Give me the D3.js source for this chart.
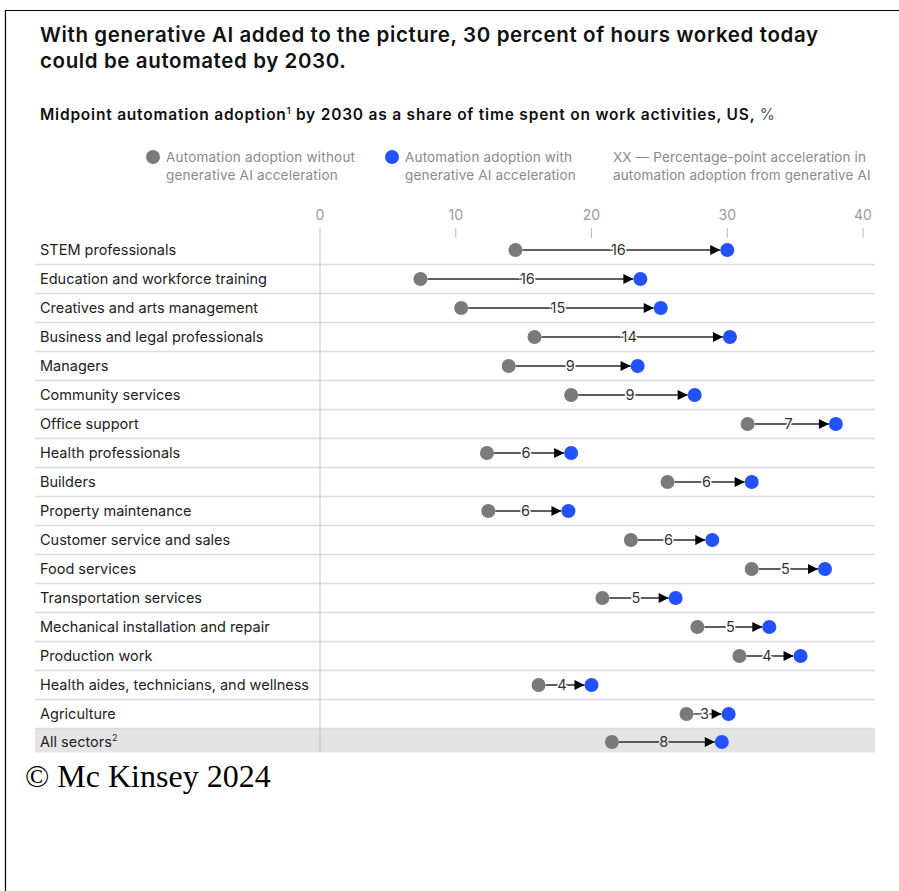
<!DOCTYPE html>
<html>
<head>
<meta charset="utf-8">
<script src="https://cdn.jsdelivr.net/npm/d3@7"></script>
<style>
  body { margin: 0; background: #fff; }
  svg { display: block; }
</style>
</head>
<body>
<svg id="chart" width="899" height="891"></svg>
<script>
// Occupation groups, top to bottom
const categories = [
  "STEM professionals",
  "Education and workforce training",
  "Creatives and arts management",
  "Business and legal professionals",
  "Managers",
  "Community services",
  "Office support",
  "Health professionals",
  "Builders",
  "Property maintenance",
  "Customer service and sales",
  "Food services",
  "Transportation services",
  "Mechanical installation and repair",
  "Production work",
  "Health aides, technicians, and wellness",
  "Agriculture",
  "All sectors"
];

// Midpoint automation adoption by 2030, % of time spent
const withoutGenAI = [14.4, 7.4, 10.4, 15.8, 13.9, 18.5, 31.5, 12.3, 25.6, 12.4, 22.9, 31.8, 20.8, 27.8, 30.9, 16.1, 27.0, 21.5];
const withGenAI    = [30.0, 23.6, 25.1, 30.2, 23.4, 27.6, 38.0, 18.5, 31.8, 18.3, 28.9, 37.2, 26.2, 33.1, 35.4, 20.0, 30.1, 29.6];

// Percentage-point acceleration from generative AI
const acceleration = [16, 16, 15, 14, 9, 9, 7, 6, 6, 6, 6, 5, 5, 5, 4, 4, 3, 8];

const xTicks = [0, 10, 20, 30, 40];

const data = categories.map((c, i) => ({
  name: c,
  from: withoutGenAI[i],
  to: withGenAI[i],
  gain: acceleration[i],
  total: c === "All sectors"
}));

const FONT = "Inter, 'Liberation Sans', Arial, sans-serif";
const GREY = "#7a7a7a";
const BLUE = "#2251ff";
const INK = "#222";
const R = 7;

const svg = d3.select("#chart").style("font-family", FONT);

// stretch a text element to a given width via letter spacing
function fitWidth(sel, width) {
  sel.each(function () {
    const n = this.getNumberOfChars();
    const w = this.getComputedTextLength();
    if (n > 1) d3.select(this).attr("letter-spacing", (width - w) / (n - 1));
  });
}

// page frame
svg.append("line").attr("x1", 5).attr("x2", 899).attr("y1", 10.5).attr("y2", 10.5)
  .attr("stroke", "#000").attr("stroke-width", 1.2);
svg.append("line").attr("x1", 5.5).attr("x2", 5.5).attr("y1", 10).attr("y2", 891)
  .attr("stroke", "#000").attr("stroke-width", 1.2);

// title
const t1 = svg.append("text").attr("x", 40).attr("y", 42)
  .attr("font-size", 20.5).attr("font-weight", 600).attr("fill", "#111")
  .text("With generative AI added to the picture, 30 percent of hours worked today");
const t2 = svg.append("text").attr("x", 40).attr("y", 68)
  .attr("font-size", 20.5).attr("font-weight", 600).attr("fill", "#111")
  .text("could be automated by 2030.");
fitWidth(t1, 778);
t2.attr("letter-spacing", t1.attr("letter-spacing"));

// subtitle
const sub = svg.append("text").attr("x", 40).attr("y", 120)
  .attr("font-size", 15.5).attr("font-weight", 600).attr("fill", "#111");
sub.append("tspan").text("Midpoint automation adoption");
sub.append("tspan").attr("font-size", 9).attr("dy", -6).text("1");
sub.append("tspan").attr("dy", 6).text(" by 2030 as a share of time spent on work activities, US, ");
sub.append("tspan").attr("font-weight", "normal").attr("fill", "#555").text("%");
fitWidth(sub, 735);

// legend
const legend = svg.append("g").attr("font-size", 13.5).attr("fill", "#8a8a8a");
const legendItems = [
  { x: 153, color: GREY, w: 189, lines: ["Automation adoption without", "generative AI acceleration"] },
  { x: 392, color: BLUE, w: 167, lines: ["Automation adoption with", "generative AI acceleration"] },
  { x: null, color: null, tx: 613, w: 253, lines: ["XX \u2014 Percentage-point acceleration in", "automation adoption from generative AI"] }
];
legendItems.forEach(it => {
  if (it.color) {
    legend.append("circle").attr("cx", it.x).attr("cy", 157).attr("r", R).attr("fill", it.color);
  }
  const tx = it.tx != null ? it.tx : it.x + 13;
  const lines = it.lines.map((l, j) =>
    legend.append("text").attr("x", tx).attr("y", 162 + j * 18).text(l));
  fitWidth(lines[0], it.w);
  lines[1].attr("letter-spacing", lines[0].attr("letter-spacing"));
});

// scales
const x = d3.scaleLinear().domain([0, 40]).range([320, 863]);
const y = d3.scaleBand().domain(categories).range([235.5, 757.5]);

const plotLeft = 35, plotRight = 875;

// highlighted total row
const totalRow = data.find(d => d.total);
svg.append("rect")
  .attr("x", plotLeft).attr("width", plotRight - plotLeft)
  .attr("y", y(totalRow.name)).attr("height", y.bandwidth() - 5)
  .attr("fill", "#e4e4e4");

// row separators
svg.append("g").selectAll("line")
  .data(categories.slice(1))
  .join("line")
  .attr("x1", plotLeft).attr("x2", plotRight)
  .attr("y1", d => y(d)).attr("y2", d => y(d))
  .attr("stroke", "#dcdcdc").attr("stroke-width", 1.5);

// x axis ticks and labels
const axis = svg.append("g");
axis.selectAll("text").data(xTicks).join("text")
  .attr("x", d => x(d)).attr("y", 220)
  .attr("text-anchor", "middle")
  .attr("font-size", 14).attr("fill", "#9a9a9a")
  .text(d => d);
axis.selectAll("line.tick").data(xTicks.slice(1)).join("line")
  .attr("class", "tick")
  .attr("x1", d => x(d)).attr("x2", d => x(d))
  .attr("y1", 228).attr("y2", 238)
  .attr("stroke", "#bbb");
axis.append("line")
  .attr("x1", x(0)).attr("x2", x(0))
  .attr("y1", 228).attr("y2", 752)
  .attr("stroke", "#c4c4c4");

// arrow marker
svg.append("defs").append("marker")
  .attr("id", "arrow")
  .attr("viewBox", "0 0 10 10")
  .attr("refX", 10).attr("refY", 5)
  .attr("markerUnits", "userSpaceOnUse")
  .attr("markerWidth", 11).attr("markerHeight", 10)
  .attr("orient", "auto")
  .append("path").attr("d", "M0,0 L10,5 L0,10 Z").attr("fill", "#000");

const rows = svg.append("g").selectAll("g").data(data).join("g")
  .attr("transform", d => `translate(0,${y(d.name) + y.bandwidth() / 2 + (d.total ? -1 : 0)})`);

// row labels
const labels = rows.append("text")
  .attr("x", 40).attr("y", 5)
  .attr("font-size", 14.5).attr("fill", INK);
labels.append("tspan").text(d => d.name);
labels.filter(d => d.total).append("tspan")
  .attr("font-size", 9).attr("dy", -6).text("2");

// connecting arrows
rows.append("line")
  .attr("x1", d => x(d.from) + R)
  .attr("x2", d => x(d.to) - R)
  .attr("y1", 0).attr("y2", 0)
  .attr("stroke", "#2a2a2a").attr("stroke-width", 1.3)
  .attr("marker-end", "url(#arrow)");

// acceleration labels with a halo matching the row background
rows.append("text")
  .attr("x", d => (x(d.from) + x(d.to)) / 2 - 3)
  .attr("y", 5)
  .attr("text-anchor", "middle")
  .attr("font-size", 14.5).attr("fill", "#333")
  .attr("stroke", d => d.total ? "#e4e4e4" : "#fff")
  .attr("stroke-width", 3).attr("paint-order", "stroke")
  .text(d => d.gain);

// dots
rows.append("circle").attr("cx", d => x(d.from)).attr("cy", 0).attr("r", R).attr("fill", GREY);
rows.append("circle").attr("cx", d => x(d.to)).attr("cy", 0).attr("r", R).attr("fill", BLUE);

// copyright line
svg.append("text").attr("x", 25).attr("y", 787)
  .attr("font-family", "'Liberation Serif', 'Times New Roman', serif")
  .attr("font-size", 32).attr("fill", "#000")
  .text("\u00a9 Mc Kinsey 2024");
</script>
</body>
</html>
